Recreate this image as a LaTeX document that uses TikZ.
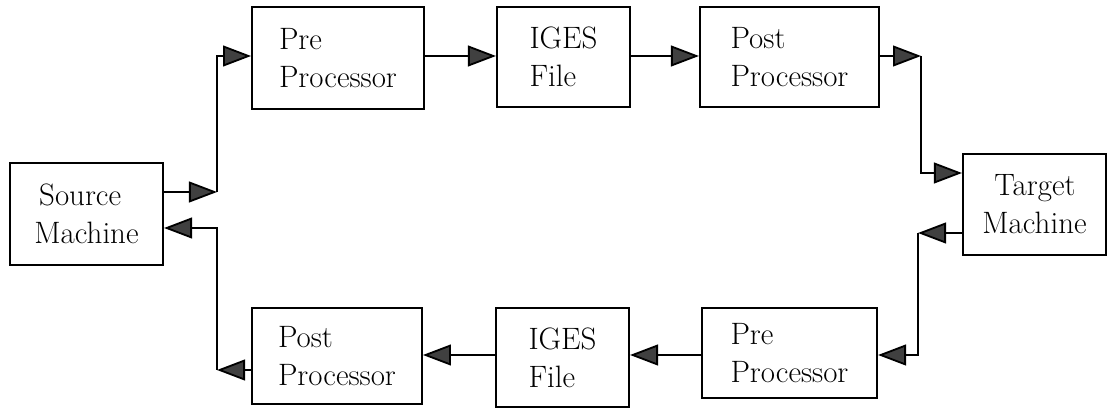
\documentclass[tikz,border=0pt]{standalone}
\usepackage{amsmath}
\usepackage{tikz}
\usetikzlibrary{arrows.meta}

\begin{document}
\begin{tikzpicture}[x=0.025cm,y=-0.025cm,
  blk/.style={draw,line width=1.3pt,align=left,inner sep=0pt,
    font=\fontsize{22}{27}\selectfont},
  arr/.style={line width=1.3pt,-{Triangle[length=0.7cm,width=0.52cm,fill=black!75]}}]
\useasboundingbox (0,0) rectangle (1107,412);
\node[blk,minimum width=3.83cm,minimum height=2.55cm] (src) at (86.5,214) {\hspace*{0.12cm}Source\\Machine};
\node[blk,minimum width=4.3cm,minimum height=2.55cm] (pre1) at (338,58) {Pre\\Processor};
\node[blk,minimum width=3.33cm,minimum height=2.5cm] (iges1) at (563.5,57) {IGES\\File};
\node[blk,minimum width=4.48cm,minimum height=2.5cm] (post1) at (789.5,57) {Post\\Processor};
\node[blk,minimum width=3.58cm,minimum height=2.53cm] (tgt) at (1034.5,204.5) {\hspace*{0.3cm}Target\\Machine};
\node[blk,minimum width=4.38cm,minimum height=2.25cm] (pre2) at (789.5,353) {Pre\\Processor};
\node[blk,minimum width=3.33cm,minimum height=2.48cm] (iges2) at (562.5,357.5) {IGES\\File};
\node[blk,minimum width=4.25cm,minimum height=2.4cm] (post2) at (337,356) {Post\\Processor};
\coordinate (j1) at (217,192);
\coordinate (j2) at (217,228);
\coordinate (j3) at (921,56);
\coordinate (j4) at (921,173);
\coordinate (j5) at (918,233);
\coordinate (j6) at (918,355);
\coordinate (j7) at (217,370);
\draw[arr] (src.east |- j1) -- (j1);
\draw[arr] (j1) |- (pre1.west |- j3);
\draw[arr] (pre1.east |- j3) -- (iges1.west |- j3);
\draw[arr] (iges1.east |- j3) -- (post1.west |- j3);
\draw[arr] (post1.east |- j3) -- (j3);
\draw[arr] (j3) -- (j4) -- (tgt.west |- j4);
\draw[arr] (tgt.west |- j5) -- (j5);
\draw[arr] (j5) -- (j6) -- (pre2.east |- j6);
\draw[arr] (pre2.west |- j6) -- (iges2.east |- j6);
\draw[arr] (iges2.west |- j6) -- (post2.east |- j6);
\draw[arr] (post2.west |- j7) -- (j7);
\draw[arr] (j7) -- (j2) -- (src.east |- j2);
\end{tikzpicture}
\end{document}
